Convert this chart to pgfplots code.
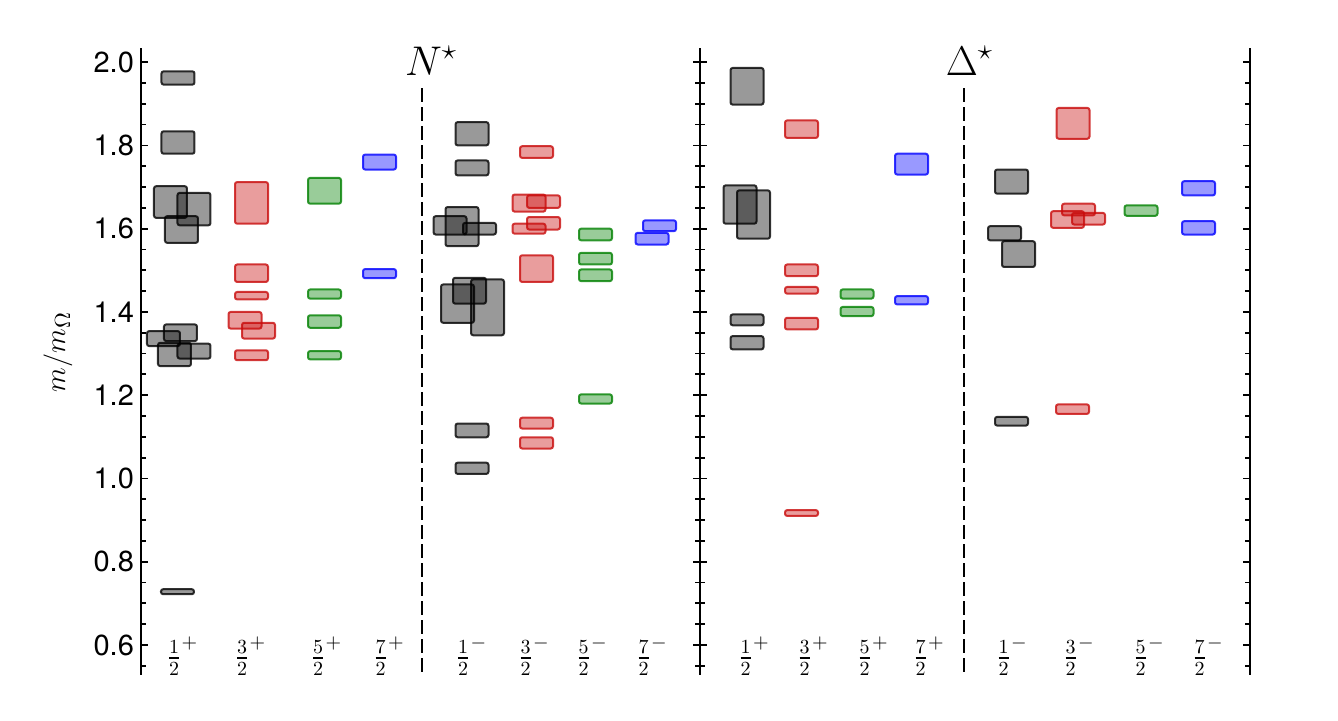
\documentclass[border=0pt]{standalone}
\usepackage{fontspec}
\setmainfont{TeX Gyre Heros}
\usepackage{amsmath}
\usepackage{pgfplots}
\pgfplotsset{compat=1.18}

\definecolor{cr}{RGB}{200,10,10}
\definecolor{cg}{RGB}{0,128,0}
\definecolor{cb}{RGB}{0,0,255}

% x runs in picture pixels, y is m/m_Omega
\pgfplotsset{
  box/.style={draw=#1, fill=#1, draw opacity=0.8, fill opacity=0.4,
              line width=1pt, rounded corners=1.1pt},
  bk/.style={box=black}, rd/.style={box=cr},
  gn/.style={box=cg}, bl/.style={box=cb},
  panel/.style={
    scale only axis, height=313.5pt,
    ymin=0.528, ymax=2.034,
    axis x line=none, axis y line=box,
    axis line style={line width=1pt},
    ytick={0.4,0.6,0.8,1.0,1.2,1.4,1.6,1.8,2.0,2.2},
    minor y tick num=3,
    tick style={line width=0.9pt, black},
    major tick length=3.5pt, minor tick length=2.5pt,
    /pgf/number format/assume math mode=true,
    yticklabel style={/pgf/number format/.cd, fixed, fixed zerofill, precision=1},
    tick label style={font=\fontsize{14.5}{16}\selectfont},
    clip=false,
  },
}
\tikzset{jpl/.style={inner sep=0pt, font=\fontsize{14.3}{17}\selectfont}}

% box: style, x centre, low, high
\newcommand{\bx}[4]{%
  \pgfmathsetmacro{\xa}{#2-16.5}%
  \pgfmathsetmacro{\xb}{#2+16.5}%
  \edef\doplot{\noexpand\addplot[#1] coordinates {(\xa,#3) (\xb,#3) (\xb,#4) (\xa,#4)} -- cycle;}%
  \doplot}
\newcommand{\jp}[2]{$\frac{#1}{2}^{#2}$}

\begin{document}
\begin{tikzpicture}
\useasboundingbox (-70.5pt,-23pt) rectangle (598.5pt,337.5pt);

% ---------------- N* ----------------
\begin{axis}[panel, at={(0pt,0pt)}, anchor=south west,
  width=279.5pt, xmin=141, xmax=700]
\addplot[black, line width=1pt, dash pattern=on 7pt off 2.5pt]
  coordinates {(422,1.9376) (422,0.528)};
% 1/2+
\bx{bk}{178}{1.946}{1.978}
\bx{bk}{178}{1.780}{1.834}
\bx{bk}{170.5}{1.626}{1.702}
\bx{bk}{194}{1.608}{1.686}
\bx{bk}{181.5}{1.566}{1.630}
\bx{bk}{180.5}{1.330}{1.370}
\bx{bk}{163.5}{1.318}{1.354}
\bx{bk}{194}{1.288}{1.324}
\bx{bk}{174.5}{1.270}{1.326}
\bx{bk}{177.5}{0.722}{0.734}
% 3/2+
\bx{rd}{251.5}{1.612}{1.712}
\bx{rd}{251.5}{1.472}{1.514}
\bx{rd}{251.5}{1.430}{1.448}
\bx{rd}{245}{1.360}{1.400}
\bx{rd}{258.5}{1.336}{1.374}
\bx{rd}{251.5}{1.284}{1.308}
% 5/2+
\bx{gn}{324.5}{1.660}{1.722}
\bx{gn}{324.5}{1.432}{1.454}
\bx{gn}{324.5}{1.362}{1.392}
\bx{gn}{324.5}{1.286}{1.306}
% 7/2+
\bx{bl}{379.5}{1.742}{1.778}
\bx{bl}{379.5}{1.481}{1.503}
% 1/2-
\bx{bk}{472}{1.800}{1.856}
\bx{bk}{472}{1.728}{1.764}
\bx{bk}{462}{1.558}{1.652}
\bx{bk}{450}{1.586}{1.630}
\bx{bk}{479.5}{1.586}{1.614}
\bx{bk}{469.5}{1.420}{1.482}
\bx{bk}{457.5}{1.374}{1.466}
\bx{bk}{487.5}{1.344}{1.478}
\bx{bk}{472}{1.099}{1.132}
\bx{bk}{472}{1.011}{1.038}
% 3/2-
\bx{rd}{536.5}{1.770}{1.798}
\bx{rd}{529}{1.641}{1.682}
\bx{rd}{543.5}{1.650}{1.680}
\bx{rd}{543.5}{1.598}{1.628}
\bx{rd}{529}{1.588}{1.612}
\bx{rd}{536.5}{1.472}{1.536}
\bx{rd}{536.5}{1.120}{1.146}
\bx{rd}{536.5}{1.072}{1.099}
% 5/2-
\bx{gn}{595.5}{1.572}{1.600}
\bx{gn}{595.5}{1.514}{1.542}
\bx{gn}{595.5}{1.474}{1.502}
\bx{gn}{595.5}{1.180}{1.202}
% 7/2-
\bx{bl}{659.5}{1.594}{1.620}
\bx{bl}{652}{1.562}{1.590}

\node[font=\fontsize{20}{24}\selectfont, anchor=base] at (axis cs:431,1.969) {$N^\star$};
\node[rotate=90, font=\fontsize{15}{18}\selectfont] at (axis cs:58,1.3036) {$m/m_\Omega$};
\node[jpl] at (axis cs:182.5,0.5735) {\jp{1}{+}};
\node[jpl] at (axis cs:250.5,0.5735) {\jp{3}{+}};
\node[jpl] at (axis cs:326.5,0.5735) {\jp{5}{+}};
\node[jpl] at (axis cs:389,0.5735) {\jp{7}{+}};
\node[jpl] at (axis cs:471.5,0.5735) {\jp{1}{-}};
\node[jpl] at (axis cs:534,0.5735) {\jp{3}{-}};
\node[jpl] at (axis cs:592,0.5735) {\jp{5}{-}};
\node[jpl] at (axis cs:652,0.5735) {\jp{7}{-}};
\end{axis}

% ---------------- Delta* ----------------
\begin{axis}[panel, at={(279.5pt,0pt)}, anchor=south west,
  width=275pt, xmin=700, xmax=1250, yticklabels={}]
\addplot[black, line width=1pt, dash pattern=on 7pt off 2.5pt]
  coordinates {(964,1.9376) (964,0.528)};
% 1/2+
\bx{bk}{747}{1.898}{1.986}
\bx{bk}{740}{1.612}{1.704}
\bx{bk}{753.5}{1.576}{1.692}
\bx{bk}{747}{1.368}{1.394}
\bx{bk}{747}{1.310}{1.342}
% 3/2+
\bx{rd}{801.5}{1.818}{1.860}
\bx{rd}{801.5}{1.486}{1.514}
\bx{rd}{801.5}{1.444}{1.460}
\bx{rd}{801.5}{1.358}{1.386}
\bx{rd}{801.5}{0.910}{0.924}
% 5/2+
\bx{gn}{857}{1.432}{1.454}
\bx{gn}{857}{1.390}{1.412}
% 7/2+
\bx{bl}{911.5}{1.730}{1.780}
\bx{bl}{911.5}{1.418}{1.438}
% 1/2-
\bx{bk}{1011.5}{1.684}{1.742}
\bx{bk}{1004.5}{1.572}{1.606}
\bx{bk}{1018.5}{1.508}{1.570}
\bx{bk}{1011.5}{1.127}{1.148}
% 3/2-
\bx{rd}{1073}{1.816}{1.890}
\bx{rd}{1078.5}{1.632}{1.660}
\bx{rd}{1067.5}{1.602}{1.642}
\bx{rd}{1088.5}{1.610}{1.638}
\bx{rd}{1072.5}{1.155}{1.178}
% 5/2-
\bx{gn}{1141}{1.631}{1.656}
% 7/2-
\bx{bl}{1198.5}{1.680}{1.714}
\bx{bl}{1198.5}{1.586}{1.618}

\node[font=\fontsize{20}{24}\selectfont, anchor=base] at (axis cs:969.5,1.969) {$\Delta^\star$};
\node[jpl] at (axis cs:754,0.5735) {\jp{1}{+}};
\node[jpl] at (axis cs:813,0.5735) {\jp{3}{+}};
\node[jpl] at (axis cs:873,0.5735) {\jp{5}{+}};
\node[jpl] at (axis cs:929,0.5735) {\jp{7}{+}};
\node[jpl] at (axis cs:1012,0.5735) {\jp{1}{-}};
\node[jpl] at (axis cs:1079,0.5735) {\jp{3}{-}};
\node[jpl] at (axis cs:1149,0.5735) {\jp{5}{-}};
\node[jpl] at (axis cs:1208,0.5735) {\jp{7}{-}};
\end{axis}
\end{tikzpicture}
\end{document}
